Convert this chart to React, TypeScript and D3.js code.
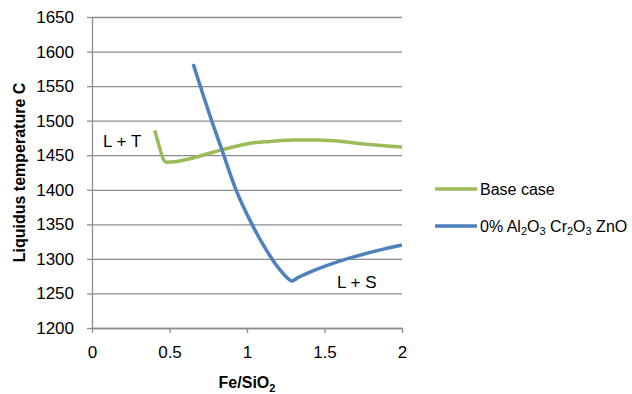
import { useEffect, useRef } from 'react'
import * as d3 from 'd3'

// Base case (green) — Fe/SiO2 vs liquidus temperature
const BASE_X = [0.405, 0.43, 0.459, 0.481, 0.55, 0.632, 0.73, 0.825, 0.93, 1.04, 1.15, 1.3, 1.45, 1.56, 1.77, 2.0]
const BASE_Y = [1486, 1466, 1445, 1440, 1441, 1445, 1451, 1457, 1463, 1468, 1470, 1472, 1472, 1471, 1466, 1462]

// 0% Al2O3 Cr2O3 ZnO (blue)
const ZERO_X = [0.653, 0.772, 0.847, 0.922, 1.03, 1.127, 1.213, 1.273, 1.289, 1.33, 1.429, 1.644, 1.86, 2.0]
const ZERO_Y = [1582, 1500, 1452, 1404, 1351, 1312, 1284, 1270, 1268, 1273, 1283, 1300, 1313, 1320]

const X_TICKS = [0, 0.5, 1, 1.5, 2]
const Y_TICKS = [1200, 1250, 1300, 1350, 1400, 1450, 1500, 1550, 1600, 1650]

const GREEN = '#9bbb59'
const BLUE = '#4f81bd'
const GRID = '#8c8c8c'
const FONT = '"Liberation Sans", Arial, sans-serif'

const W = 632
const H = 394
const PLOT = { left: 92, right: 402, top: 17, bottom: 328 }

export default function App() {
  const svgRef = useRef<SVGSVGElement>(null)

  useEffect(() => {
    if (!svgRef.current) return
    const svg = d3.select(svgRef.current)
    svg.selectAll('*').remove()

    const x = d3.scaleLinear().domain([0, 2]).range([PLOT.left, PLOT.right])
    const y = d3.scaleLinear().domain([1200, 1650]).range([PLOT.bottom, PLOT.top])

    // ── Grid ────────────────────────────────────────────────────────────────
    svg.append('g')
      .attr('transform', `translate(${PLOT.left},0)`)
      .call(d3.axisLeft(y).tickValues(Y_TICKS).tickSize(-(PLOT.right - PLOT.left)).tickFormat(() => ''))
      .call((a) => a.select('.domain').remove())
      .call((a) => a.selectAll('line').attr('stroke', GRID).attr('stroke-width', 1.3))

    // ── Y axis ──────────────────────────────────────────────────────────────
    svg.append('g')
      .attr('transform', `translate(${PLOT.left},0)`)
      .call(d3.axisLeft(y).tickValues(Y_TICKS).tickSize(5).tickSizeOuter(0).tickPadding(13).tickFormat(d3.format('d')))
      .call((a) => a.select('.domain').attr('stroke', GRID).attr('stroke-width', 1.3))
      .call((a) => a.selectAll('line').attr('stroke', GRID).attr('stroke-width', 1.3))
      .call((a) => a.selectAll('text').attr('font-family', FONT).attr('font-size', 17).attr('fill', '#000'))

    // ── X axis ──────────────────────────────────────────────────────────────
    svg.append('g')
      .attr('transform', `translate(0,${PLOT.bottom})`)
      .call(d3.axisBottom(x).tickValues(X_TICKS).tickSize(5).tickSizeOuter(0).tickPadding(13).tickFormat(d3.format('')))
      .call((a) => a.select('.domain').attr('stroke', GRID).attr('stroke-width', 1.3))
      .call((a) => a.selectAll('line').attr('stroke', GRID).attr('stroke-width', 1.3))
      .call((a) => a.selectAll('text').attr('font-family', FONT).attr('font-size', 17).attr('fill', '#000'))

    // ── Lines ───────────────────────────────────────────────────────────────
    const line = d3.line<[number, number]>()
      .x((d) => x(d[0]))
      .y((d) => y(d[1]))
      .curve(d3.curveMonotoneX)

    const series = [
      { xs: BASE_X, ys: BASE_Y, color: GREEN },
      { xs: ZERO_X, ys: ZERO_Y, color: BLUE },
    ]
    series.forEach(({ xs, ys, color }) => {
      svg.append('path')
        .datum(xs.map((v, i) => [v, ys[i]] as [number, number]))
        .attr('fill', 'none')
        .attr('stroke', color)
        .attr('stroke-width', 3.5)
        .attr('stroke-linejoin', 'round')
        .attr('d', line)
    })

    // ── Region labels ───────────────────────────────────────────────────────
    svg.append('text')
      .attr('x', 103).attr('y', 147)
      .attr('font-family', FONT).attr('font-size', 17).attr('fill', '#000')
      .text('L + T')
    svg.append('text')
      .attr('x', 337).attr('y', 288)
      .attr('font-family', FONT).attr('font-size', 17).attr('fill', '#000')
      .text('L + S')

    // ── Axis titles ─────────────────────────────────────────────────────────
    svg.append('text')
      .attr('transform', `translate(25,${(PLOT.top + PLOT.bottom) / 2}) rotate(-90)`)
      .attr('text-anchor', 'middle')
      .attr('font-family', FONT).attr('font-size', 16).attr('font-weight', 'bold')
      .text('Liquidus temperature C')

    const xt = svg.append('text')
      .attr('x', (PLOT.left + PLOT.right) / 2).attr('y', 388)
      .attr('text-anchor', 'middle')
      .attr('font-family', FONT).attr('font-size', 16).attr('font-weight', 'bold')
    xt.append('tspan').text('Fe/SiO')
    xt.append('tspan').attr('font-size', 11).attr('dy', 4).text('2')

    // ── Legend ──────────────────────────────────────────────────────────────
    const legend = [
      { parts: [['Base case', false]], color: GREEN },
      {
        parts: [['0% Al', false], ['2', true], ['O', false], ['3', true], [' Cr', false], ['2', true], ['O', false], ['3', true], [' ZnO', false]],
        color: BLUE,
      },
    ] as { parts: [string, boolean][]; color: string }[]
    legend.forEach(({ parts, color }, i) => {
      const ly = 189 + i * 37
      svg.append('line')
        .attr('x1', 435).attr('x2', 477).attr('y1', ly).attr('y2', ly)
        .attr('stroke', color).attr('stroke-width', 3.5)
      const t = svg.append('text')
        .attr('x', 480).attr('y', ly + 6)
        .attr('font-family', FONT).attr('font-size', 16).attr('fill', '#000')
      let sub = false
      parts.forEach(([s, isSub]) => {
        const ts = t.append('tspan').text(s)
        if (isSub !== sub) {
          ts.attr('dy', isSub ? 3 : -3)
          sub = isSub
        }
        if (isSub) ts.attr('font-size', 11)
      })
    })
  }, [])

  return (
    <svg
      ref={svgRef}
      width={W}
      height={H}
      style={{ position: 'absolute', left: 0, top: 0, background: '#fff' }}
    />
  )
}
